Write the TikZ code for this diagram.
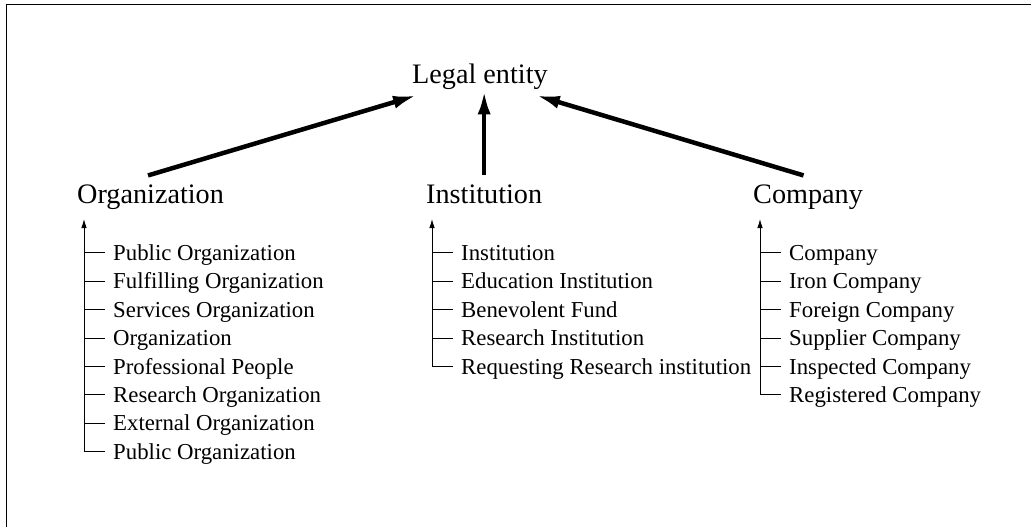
\documentclass[tikz,border=0pt]{standalone}
\usepackage{fontspec}
\setmainfont{Liberation Serif}
\usetikzlibrary{arrows.meta}
\begin{document}
\begin{tikzpicture}[x=1pt,y=-1pt,
  head/.style={inner sep=0pt, anchor=base west, font=\fontsize{28.2}{34}\selectfont},
  item/.style={inner sep=0pt, anchor=base west, font=\fontsize{22.8}{27}\selectfont},
  bigarrow/.style={line width=4.5pt, -{Latex[length=24pt,width=13pt]}},
  bar/.style={line width=0.9pt, -{Latex[length=9pt,width=5.5pt]}},
  tick/.style={line width=0.9pt},
  frame/.style={line width=1.3pt}]
\useasboundingbox (0,0) rectangle (1031,527);

% outer frame (top and left edges)
\draw[frame] (6.5,527) -- (6.5,4.5) -- (1031,4.5);

% headings
\node[head] (legal) at (412,84) {Legal entity};
\node[head] (org)   at (77,203)  {Organization};
\node[head] (inst)  at (426,203) {Institution};
\node[head] (comp)  at (753,203) {Company};

% generalisation arrows
\draw[bigarrow] ([xshift=-2.5pt,yshift=8.7pt]org.north) -- ([xshift=5pt,yshift=-5pt]legal.south west);
\draw[bigarrow] ([yshift=8.7pt]inst.north) -- (legal.south -| inst.north);
\draw[bigarrow] ([xshift=-4.5pt,yshift=8.7pt]comp.north) -- ([xshift=-12pt,yshift=-5pt]legal.south east);

% Organization list
\foreach \t [count=\i] in {Public Organization, Fulfilling Organization,
    Services Organization, Organization, Professional People,
    Research Organization, External Organization, Public Organization}
  \node[item] (org\i) at (113, 232.1+28.4*\i) {\t};
\foreach \i in {1,...,8}
  \draw[tick] ([xshift=-8pt,yshift=7.6pt]org\i.base west) -- ++(-21pt,0);
\draw[bar] ([xshift=-29pt,yshift=7.6pt]org8.base west) -- ([xshift=-29pt,yshift=41.5pt]org1.base west);

% Institution list
\foreach \t [count=\i] in {Institution, Education Institution, Benevolent Fund,
    Research Institution, Requesting Research institution}
  \node[item] (ins\i) at (461, 232.1+28.4*\i) {\t};
\foreach \i in {1,...,5}
  \draw[tick] ([xshift=-8pt,yshift=7.6pt]ins\i.base west) -- ++(-21pt,0);
\draw[bar] ([xshift=-29pt,yshift=7.6pt]ins5.base west) -- ([xshift=-29pt,yshift=41.5pt]ins1.base west);

% Company list
\foreach \t [count=\i] in {Company, Iron Company, Foreign Company,
    Supplier Company, Inspected Company, Registered Company}
  \node[item] (com\i) at (789, 232.1+28.4*\i) {\t};
\foreach \i in {1,...,6}
  \draw[tick] ([xshift=-8pt,yshift=7.6pt]com\i.base west) -- ++(-21pt,0);
\draw[bar] ([xshift=-29pt,yshift=7.6pt]com6.base west) -- ([xshift=-29pt,yshift=41.5pt]com1.base west);
\end{tikzpicture}
\end{document}
